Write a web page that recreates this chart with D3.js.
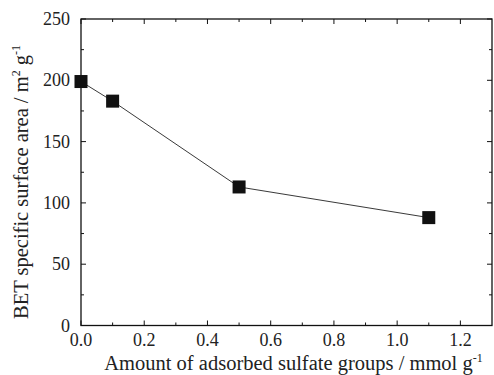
<!DOCTYPE html>
<html>
<head>
<meta charset="utf-8">
<script src="https://cdn.jsdelivr.net/npm/d3@7"></script>
<style>
  body { margin: 0; background: #fff; }
</style>
</head>
<body>
<svg id="chart" width="494" height="375"></svg>
<script>
// sulfate amount (mmol/g) vs BET area (m2/g)
const sulfate = [0.0, 0.1, 0.5, 1.1];
const betArea = [199, 183, 113, 88];
const xTicks = [0.0, 0.2, 0.4, 0.6, 0.8, 1.0, 1.2];
const yTicks = [0, 50, 100, 150, 200, 250];

const FONT = "'Liberation Serif', 'Times New Roman', serif";
const svg = d3.select("#chart")
  .style("font-family", FONT);
const mLeft = 81, mRight = 492, mTop = 19, mBottom = 325.5;

const x = d3.scaleLinear().domain([0, 1.3]).range([mLeft, mRight]);
const y = d3.scaleLinear().domain([0, 250]).range([mBottom, mTop]);

const pts = sulfate.map((s, i) => ({ x: s, y: betArea[i] }));

// frame
svg.append("rect")
  .attr("x", mLeft).attr("y", mTop)
  .attr("width", mRight - mLeft).attr("height", mBottom - mTop)
  .attr("fill", "none").attr("stroke", "#111").attr("stroke-width", 1.3);

// ticks (inward, all four sides)
const xMinor = d3.range(0.1, 1.3, 0.2);
const yMinor = d3.range(25, 250, 50);
function tickLines(vals, len, horiz) {
  vals.forEach(v => {
    if (horiz) {
      const px = x(v);
      svg.append("line").attr("x1", px).attr("x2", px).attr("y1", mBottom).attr("y2", mBottom - len)
        .attr("stroke", "#111");
      svg.append("line").attr("x1", px).attr("x2", px).attr("y1", mTop).attr("y2", mTop + len)
        .attr("stroke", "#111");
    } else {
      const py = y(v);
      svg.append("line").attr("y1", py).attr("y2", py).attr("x1", mLeft).attr("x2", mLeft + len)
        .attr("stroke", "#111");
      svg.append("line").attr("y1", py).attr("y2", py).attr("x1", mRight).attr("x2", mRight - len)
        .attr("stroke", "#111");
    }
  });
}
tickLines(xTicks, 5, true);
tickLines(xMinor, 3, true);
tickLines(yTicks, 5, false);
tickLines(yMinor, 3, false);

// tick labels
svg.selectAll(".xl").data(xTicks).enter().append("text")
  .attr("fill", "#222")
  .attr("x", d => x(d)).attr("y", mBottom + 20)
  .attr("text-anchor", "middle").attr("font-size", 18)
  .text(d => d.toFixed(1));
svg.selectAll(".yl").data(yTicks).enter().append("text")
  .attr("fill", "#222")
  .attr("x", mLeft - 11).attr("y", d => y(d) + 6)
  .attr("text-anchor", "end").attr("font-size", 18)
  .text(d => d);

// axis titles
const xt = svg.append("text")
  .attr("fill", "#222")
  .attr("x", 293.5).attr("y", 370)
  .attr("text-anchor", "middle").attr("font-size", 20.5);
xt.append("tspan").text("Amount of adsorbed sulfate groups / mmol g");
xt.append("tspan").attr("dy", -8).attr("font-size", 12).text("-1");

const yt = svg.append("text")
  .attr("fill", "#222")
  .attr("transform", "translate(28,182) rotate(-90)")
  .attr("text-anchor", "middle").attr("font-size", 20.5);
yt.append("tspan").text("BET specific surface area / m");
yt.append("tspan").attr("dy", -8).attr("font-size", 12).text("2");
yt.append("tspan").attr("dy", 8).text(" g");
yt.append("tspan").attr("dy", -8).attr("font-size", 12).text("-1");

// line + markers
svg.append("path")
  .datum(pts)
  .attr("d", d3.line().x(d => x(d.x)).y(d => y(d.y)))
  .attr("fill", "none").attr("stroke", "#222").attr("stroke-width", 0.9);

const ms = 13;
svg.selectAll(".pt").data(pts).enter().append("rect")
  .attr("x", d => x(d.x) - ms / 2).attr("y", d => y(d.y) - ms / 2)
  .attr("width", ms).attr("height", ms)
  .attr("fill", "#111");
</script>
</body>
</html>
